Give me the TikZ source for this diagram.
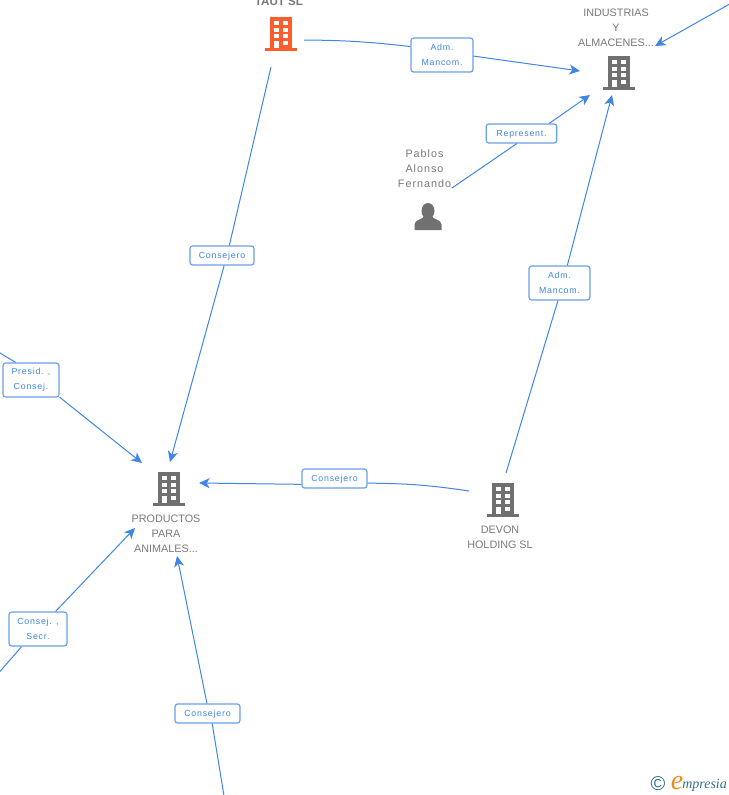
\documentclass[tikz,border=0pt]{standalone}
\usepackage{fontspec}
\setmainfont{Liberation Sans}
\newfontfamily\rolefont[LetterSpace=9]{Liberation Sans}
\newfontfamily\personfont[LetterSpace=9]{Liberation Sans}
\newfontfamily\logofont{Liberation Serif}
\usetikzlibrary{arrows.meta,calc,positioning}
\definecolor{linkblue}{HTML}{3F85E6}
\definecolor{framblue}{HTML}{6A9FEA}
\definecolor{namegrey}{HTML}{787878}
\definecolor{icongrey}{HTML}{707070}
\definecolor{iconorange}{HTML}{FF5C2E}
\definecolor{logoteal}{HTML}{2F6F8C}
\definecolor{logoorange}{HTML}{F28A1E}
\tikzstyle{link}=[draw=linkblue,line width=.75pt]
\tikzstyle{linkto}=[link,-{Stealth[length=8pt,width=7.5pt,inset=2.3pt]}]
\tikzstyle{role}=[draw=framblue,line width=.9pt,rounded corners=2pt,fill=white,text=linkblue,align=center,inner sep=0pt,font=\rolefont\fontsize{6.6}{11.25}\selectfont,execute at begin node=\rule{0pt}{6.4pt}]
\tikzstyle{holder}=[text=namegrey,align=center,inner sep=0pt,font=\fontsize{8.1}{11.25}\selectfont]
\tikzset{
  building/.pic={
    \fill[pic actions] (-11.3,-17) rectangle (11.3,14.5);
    \fill[pic actions] (-16,14.3) rectangle (16,17);
    \fill[white] (-7,7) rectangle (-2.3,14.3);
    \fill[white] (2.3,7) rectangle (7,11);
    \foreach \wy in {-13,-6.3,.3} {
      \fill[white] (-7,\wy) rectangle (-2.3,\wy+4);
      \fill[white] (2.3,\wy) rectangle (7,\wy+4);
    }
  },
  person/.pic={
    \fill[pic actions] (0,-5.5) ellipse (6.5 and 8);
    \fill[pic actions] (-13.5,13.5) -- (-13.5,8) .. controls (-13.5,3) and (-5,3) .. (-3,-1) -- (3,-1) .. controls (5,3) and (13.5,3) .. (13.5,8) -- (13.5,13.5) -- cycle;
  }
}
\begin{document}
\begin{tikzpicture}[x=.75pt,y=-.75pt]
  \useasboundingbox (0,0) rectangle (728,795);

  % icons
  \pic[fill=iconorange] (taut) at (281,34) {building};
  \pic[fill=icongrey] (industrias) at (619,73) {building};
  \pic[fill=icongrey] (productos) at (169,489) {building};
  \pic[fill=icongrey] (devon) at (503,500) {building};
  \pic[fill=icongrey] (pablos) at (428,216.5) {person};

  % names
  \node[holder,font=\bfseries\fontsize{8.7}{11.25}\selectfont] (tautname) at (279,2) {TAUT SL};
  \node[holder] (industriasname) at (616,28) {INDUSTRIAS\\Y\\ALMACENES...};
  \node[holder] (productosname) at (166,534) {PRODUCTOS\\PARA\\ANIMALES...};
  \node[holder] (devonname) at (500,537.5) {DEVON\\HOLDING SL};
  \node[holder,font=\personfont\fontsize{8.1}{11.25}\selectfont] (pablosname) at (424.5,169) {Pablos\\Alonso\\Fernando};

  % roles
  \node[role,minimum width=46.5pt,minimum height=25.5pt] (adm1) at (442,55) {Adm.\\Mancom.};
  \node[role,minimum width=53pt,minimum height=14.25pt] (represent) at (521.5,133.5) {Represent.};
  \node[role,minimum width=45.75pt,minimum height=25.5pt] (adm2) at (559.5,283) {Adm.\\Mancom.};
  \node[role,minimum width=48pt,minimum height=14.25pt] (consejero1) at (222,255.5) {Consejero};
  \node[role,minimum width=48.75pt,minimum height=14.25pt] (consejero2) at (334.5,478.5) {Consejero};
  \node[role,minimum width=42pt,minimum height=25.5pt] (presid) at (31,380) {Presid. ,\\Consej.};
  \node[role,minimum width=43.5pt,minimum height=25.5pt] (secr) at (38,629) {Consej. ,\\Secr.};
  \node[role,minimum width=48.75pt,minimum height=14.25pt] (consejero3) at (207.5,713.5) {Consejero};

  % free ends of the connectors
  \coordinate (tautright) at (304,40);
  \coordinate (tautbelow) at (271,67);
  \coordinate (indleft) at (580,71);
  \coordinate (indbelowleft) at (590,95);
  \coordinate (indbelow) at (612,95);
  \coordinate (indright) at (655,46);
  \coordinate (offright) at (732,2.7);
  \coordinate (pabright) at (452,188);
  \coordinate (devleft) at (469,491);
  \coordinate (devtop) at (506,473);
  \coordinate (prodtop) at (170,462);
  \coordinate (prodright) at (199,483);
  \coordinate (prodleft) at (142,463);
  \coordinate (prodbelowleft) at (135,528);
  \coordinate (prodbelow) at (177,556);
  \coordinate (offleft1) at (-4,350.6);
  \coordinate (offleft2) at (-4,676);
  \coordinate (offbottom) at (224.5,799);

  % connectors
  \draw[link] (tautright) to[bend left=3] (adm1.165);
  \draw[linkto] (adm1.-2) -- (indleft);
  \draw[link] (pabright) -- (represent.245);
  \draw[linkto] (represent.20) -- (indbelowleft);
  \draw[link] (devtop) -- (adm2.265);
  \draw[linkto] (adm2.66) -- (indbelow);
  \draw[linkto] (offright) -- (indright);
  \draw[link] (tautbelow) -- (consejero1.54);
  \draw[linkto] (consejero1.282) -- (prodtop);
  \draw[link] (devleft) to[bend right=4] (consejero2.-8);
  \draw[linkto] (consejero2.190) -- (prodright);
  \draw[link] (offleft1) -- (presid.131);
  \draw[linkto] (presid.-31) -- (prodleft);
  \draw[link] (offleft2) -- (secr.227);
  \draw[linkto] (secr.45) -- (prodbelowleft);
  \draw[link] (offbottom) -- (consejero3.295);
  \draw[linkto] (consejero3.93) -- (prodbelow);

  % logo
  \node[text=logoteal,inner sep=0pt,font=\fontsize{15}{15}\selectfont] (logoc) at (658,784) {©};
  \node[text=logoorange,inner sep=0pt,font=\logofont\itshape\fontsize{21}{21}\selectfont] (logoe) at (677,783) {e};
  \node[text=logoteal,inner sep=0pt,anchor=west,font=\logofont\itshape\fontsize{10.5}{10}\selectfont] (logotext) at (682,785) {mpresia};
\end{tikzpicture}
\end{document}
